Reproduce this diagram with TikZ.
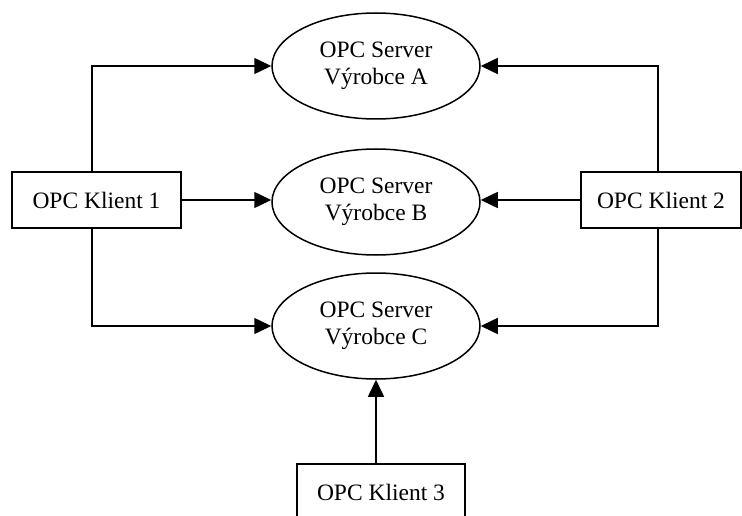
\documentclass[tikz,border=0pt]{standalone}
\usepackage{fontspec}
\setmainfont{Liberation Serif}
\usetikzlibrary{arrows.meta,shapes.geometric}
\begin{document}
\begin{tikzpicture}[x=1pt,y=-1pt,
  every node/.style={font=\fontsize{23.5}{27}\selectfont, line width=1.5pt},
  klient/.style={draw, rectangle, minimum height=56pt, inner sep=0pt},
  server/.style={draw, ellipse, minimum width=208pt, minimum height=106pt, inner sep=0pt, align=center},
  conn/.style={line width=1.5pt, -{Triangle[length=17pt,width=16pt]}}]
  \useasboundingbox (0,0) rectangle (742,516);
  \clip (0,0) rectangle (742,516);

  % servers
  \node[server] (A) at (376,66)  {OPC Server\\Výrobce A};
  \node[server] (B) at (376,202) {OPC Server\\Výrobce B};
  \node[server] (C) at (376,326) {OPC Server\\Výrobce C};

  % clients
  \node[klient, minimum width=169pt] (k1) at (96.5,200) {OPC Klient 1};
  \node[klient, minimum width=160pt] (k2) at (661,200)  {OPC Klient 2};
  \node[klient, minimum width=168pt] (k3) at (381,492)  {OPC Klient 3};

  % client 1 connections
  \draw[conn] ([xshift=-4.5pt]k1.north) |- (A.west);
  \draw[conn] (k1.east) -- (k1.east -| B.west);
  \draw[conn] ([xshift=-4.5pt]k1.south) |- (C.west);

  % client 2 connections
  \draw[conn] ([xshift=-3pt]k2.north) |- (A.east);
  \draw[conn] (k2.west) -- (k2.west -| B.east);
  \draw[conn] ([xshift=-3pt]k2.south) |- (C.east);

  % client 3 connection
  \draw[conn] (C.south |- k3.north) -- (C.south);
\end{tikzpicture}
\end{document}
